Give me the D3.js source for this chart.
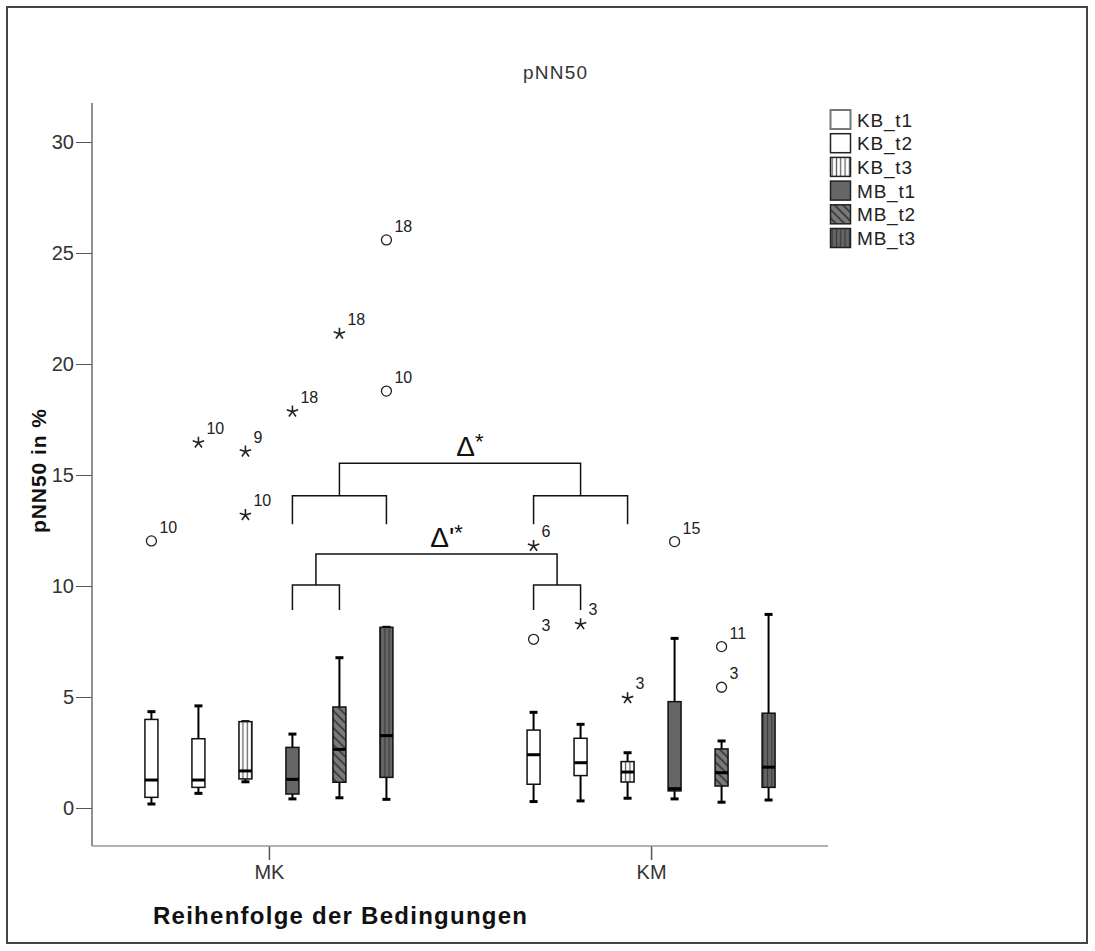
<!DOCTYPE html>
<html>
<head>
<meta charset="utf-8">
<script src="https://d3js.org/d3.v7.min.js"></script>
<style>
  body { margin: 0; background: #fff; }
  text { font-family: "Liberation Sans", Arial, sans-serif; }
</style>
</head>
<body>
<script>
// groups on x, series inside each group
const groups = ["MK", "KM"];
const series = ["KB_t1", "KB_t2", "KB_t3", "MB_t1", "MB_t2", "MB_t3"];
const yTicks = [0, 5, 10, 15, 20, 25, 30];

// [whisker low, q1, median, q3, whisker high] per series
const statsMK = [
  [0.18, 0.48, 1.26, 3.99, 4.34],
  [0.66, 0.93, 1.26, 3.12, 4.60],
  [1.18, 1.31, 1.67, 3.89, 3.89],
  [0.41, 0.63, 1.29, 2.73, 3.33],
  [0.46, 1.16, 2.64, 4.55, 6.77],
  [0.39, 1.38, 3.26, 8.14, 8.14]
];
const statsKM = [
  [0.29, 1.07, 2.40, 3.51, 4.31],
  [0.32, 1.46, 2.04, 3.14, 3.77],
  [0.44, 1.17, 1.62, 2.09, 2.49],
  [0.41, 0.77, 0.87, 4.79, 7.64],
  [0.26, 0.99, 1.59, 2.66, 3.02],
  [0.36, 0.93, 1.84, 4.27, 8.72]
];

// outliers: group, series, value, case label, kind (o = outlier, * = extreme)
const outlierGroup  = ["MK","MK","MK","MK","MK","MK","MK","MK","KM","KM","KM","KM","KM","KM","KM"];
const outlierSeries = ["KB_t1","KB_t2","KB_t3","KB_t3","MB_t1","MB_t2","MB_t3","MB_t3","KB_t1","KB_t1","KB_t2","KB_t3","MB_t1","MB_t2","MB_t2"];
const outlierValue  = [12.03, 16.5, 16.1, 13.24, 17.9, 21.41, 25.59, 18.78, 7.6, 11.85, 8.32, 4.99, 12.0, 7.27, 5.44];
const outlierCase   = ["10","10","9","10","18","18","18","10","3","6","3","3","15","11","3"];
const outlierKind   = ["o","*","*","*","*","*","o","o","o","*","*","*","o","o","o"];

// significance brackets
const bracketLabel = ["Δ", "Δ'"];
const bracketLeft  = [["MK","MB_t1","MB_t3"], ["MK","MB_t1","MB_t2"]];
const bracketRight = [["KM","KB_t1","KB_t3"], ["KM","KB_t1","KB_t2"]];
const bracketLevels = [[15.53, 14.07, 12.78], [11.44, 10.05, 8.92]];

const W = 1095, H = 951;
const svg = d3.select("body").append("svg").attr("width", W).attr("height", H);

// frame
svg.append("rect").attr("x", 7).attr("y", 7).attr("width", 1080).attr("height", 936)
  .attr("fill", "#fff").attr("stroke", "#444").attr("stroke-width", 2);

// patterns
const defs = svg.append("defs");
function stripes(id, bg, fg, size, w) {
  const p = defs.append("pattern").attr("id", id).attr("patternUnits", "userSpaceOnUse")
    .attr("width", size).attr("height", size);
  p.append("rect").attr("width", size).attr("height", size).attr("fill", bg);
  p.append("line").attr("x1", size / 2).attr("x2", size / 2).attr("y1", 0).attr("y2", size)
    .attr("stroke", fg).attr("stroke-width", w);
}
stripes("vKB", "#fff", "#555", 4.3, 1.2);
stripes("vMB", "#666", "#3a3a3a", 4.3, 1.2);
const dp = defs.append("pattern").attr("id", "dMB").attr("patternUnits", "userSpaceOnUse")
  .attr("width", 6).attr("height", 6).attr("patternTransform", "rotate(45)");
dp.append("rect").attr("width", 6).attr("height", 6).attr("fill", "#7a7a7a");
dp.append("line").attr("x1", 0).attr("x2", 6).attr("y1", 3).attr("y2", 3)
  .attr("stroke", "#222").attr("stroke-width", 1.3);

const fills = ["#fff", "#fff", "url(#vKB)", "#666", "url(#dMB)", "url(#vMB)"];

// scales
const x0 = d3.scalePoint().domain(groups).range([92, 828]).padding(0.463);
const x1 = d3.scalePoint().domain(series).range([-117.5, 117.5]);
const y = d3.scaleLinear().domain([0, 30]).range([808, 142]);
const xpos = (g, s) => x0(g) + x1(s);

// axes
const yAxis = svg.append("g").attr("transform", "translate(92,0)")
  .call(d3.axisLeft(y).tickValues(yTicks).tickSize(16).tickPadding(2));
yAxis.select(".domain").remove();
yAxis.selectAll("line").attr("stroke", "#555");
yAxis.selectAll("text").attr("font-size", 20).attr("fill", "#333").attr("dy", "0.34em")
  .style("font-family", "Liberation Sans, Arial, sans-serif");
svg.append("line").attr("x1", 92).attr("x2", 92).attr("y1", 103).attr("y2", 846)
  .attr("stroke", "#555").attr("stroke-width", 1.3);

const xAxis = svg.append("g").attr("transform", "translate(0,846)")
  .call(d3.axisBottom(x0).tickSize(14).tickPadding(5));
xAxis.select(".domain").remove();
xAxis.selectAll("line").attr("stroke", "#555").attr("stroke-width", 1.5);
xAxis.selectAll("text").attr("font-size", 20).attr("fill", "#333")
  .style("font-family", "Liberation Sans, Arial, sans-serif");
svg.append("line").attr("x1", 92).attr("x2", 828).attr("y1", 846).attr("y2", 846)
  .attr("stroke", "#999").attr("stroke-width", 1.5);

// titles
svg.append("text").attr("x", 555).attr("y", 79).attr("text-anchor", "middle")
  .attr("font-size", 19).attr("fill", "#333")
  .attr("textLength", 64).attr("lengthAdjust", "spacing").text("pNN50");
svg.append("text").attr("x", 340).attr("y", 924).attr("text-anchor", "middle")
  .attr("font-size", 24).attr("font-weight", "bold").attr("fill", "#111")
  .attr("textLength", 374).attr("lengthAdjust", "spacing")
  .text("Reihenfolge der Bedingungen");
svg.append("text").attr("transform", "translate(46,471) rotate(-90)").attr("text-anchor", "middle")
  .attr("font-size", 21).attr("font-weight", "bold").attr("fill", "#111")
  .attr("textLength", 124).attr("lengthAdjust", "spacing").text("pNN50 in %");

// boxes
const bw = 13;
const plot = svg.append("g");
[statsMK, statsKM].forEach((stats, gi) => {
  stats.forEach((d, si) => {
    const cx = xpos(groups[gi], series[si]);
    const g = plot.append("g");
    g.append("line").attr("x1", cx).attr("x2", cx).attr("y1", y(d[0])).attr("y2", y(d[1]))
      .attr("stroke", "#000").attr("stroke-width", 2);
    g.append("line").attr("x1", cx).attr("x2", cx).attr("y1", y(d[3])).attr("y2", y(d[4]))
      .attr("stroke", "#000").attr("stroke-width", 2);
    [d[0], d[4]].forEach(v => {
      g.append("line").attr("x1", cx - 4).attr("x2", cx + 4).attr("y1", y(v)).attr("y2", y(v))
        .attr("stroke", "#000").attr("stroke-width", 3);
    });
    g.append("rect").attr("x", cx - bw / 2).attr("y", y(d[3])).attr("width", bw)
      .attr("height", y(d[1]) - y(d[3])).attr("fill", fills[si])
      .attr("stroke", "#111").attr("stroke-width", 1.5);
    g.append("line").attr("x1", cx - bw / 2).attr("x2", cx + bw / 2).attr("y1", y(d[2])).attr("y2", y(d[2]))
      .attr("stroke", "#000").attr("stroke-width", 3);
  });
});

// outliers
const starPath = r => {
  let p = "";
  for (let k = 0; k < 5; k++) {
    const a = -Math.PI / 2 + k * 2 * Math.PI / 5;
    p += "M0,0L" + (r * Math.cos(a)).toFixed(2) + "," + (r * Math.sin(a)).toFixed(2);
  }
  return p;
};
outlierValue.forEach((v, i) => {
  const cx = xpos(outlierGroup[i], outlierSeries[i]), cy = y(v);
  if (outlierKind[i] === "o") {
    plot.append("circle").attr("cx", cx).attr("cy", cy).attr("r", 5)
      .attr("fill", "none").attr("stroke", "#222").attr("stroke-width", 1.3);
  } else {
    plot.append("path").attr("transform", `translate(${cx},${cy + 1})`).attr("d", starPath(6))
      .attr("stroke", "#222").attr("stroke-width", 1.6).attr("fill", "none");
  }
  plot.append("text").attr("x", cx + 8).attr("y", cy - 8).attr("font-size", 16)
    .attr("fill", "#222").text(outlierCase[i]);
});

// brackets
bracketLabel.forEach((lab, i) => {
  const L = bracketLeft[i], R = bracketRight[i], lv = bracketLevels[i];
  const la = xpos(L[0], L[1]), lb = xpos(L[0], L[2]);
  const ra = xpos(R[0], R[1]), rb = xpos(R[0], R[2]);
  const lm = (la + lb) / 2, rm = (ra + rb) / 2;
  const yTop = y(lv[0]), ySub = y(lv[1]), yLeg = y(lv[2]);
  const path = `M${la},${yLeg}V${ySub}H${lb}V${yLeg}` +
    `M${ra},${yLeg}V${ySub}H${rb}V${yLeg}` +
    `M${lm},${ySub}V${yTop}H${rm}V${ySub}`;
  svg.append("path").attr("d", path).attr("fill", "none")
    .attr("stroke", "#111").attr("stroke-width", 1.5);
  const t = svg.append("text").attr("x", (lm + rm) / 2 + 10).attr("y", yTop - 7)
    .attr("text-anchor", "middle").attr("font-size", 28).attr("fill", "#111");
  t.append("tspan").text(lab);
  t.append("tspan").attr("font-size", 22).attr("dy", -7).text("*");
});

// legend
const lg = svg.append("g").attr("transform", "translate(830,110)");
series.forEach((s, i) => {
  const row = lg.append("g").attr("transform", `translate(0,${i * 23.7})`);
  row.append("rect").attr("x", 0.5).attr("y", 0).attr("width", 20).attr("height", 19)
    .attr("fill", fills[i]).attr("stroke", i === 0 ? "#777" : "#222").attr("stroke-width", i === 0 ? 2 : 1.5);
  row.append("text").attr("x", 27).attr("y", 16.5).attr("font-size", 19).attr("letter-spacing", 0.8)
    .attr("fill", "#222").text(s);
});
</script>
</body>
</html>
